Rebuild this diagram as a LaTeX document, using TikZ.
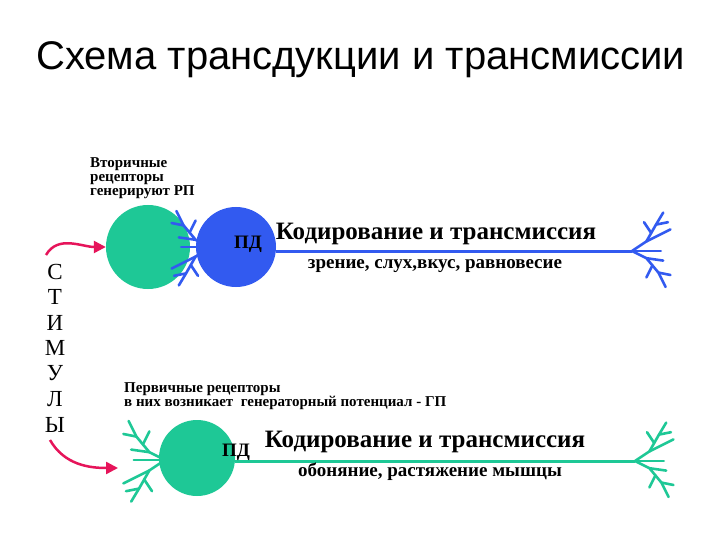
\documentclass[tikz,border=0pt]{standalone}
\usepackage{fontspec}
\setmainfont{Liberation Serif}
\newfontfamily\sansf{Liberation Sans}
\usetikzlibrary{arrows.meta}
\definecolor{cgreen}{RGB}{30,200,150}
\definecolor{cblue}{RGB}{50,90,240}
\definecolor{cred}{RGB}{230,20,90}
\tikzset{
 cell/.style={circle,minimum size=80pt,inner sep=0pt},
 axon/.style={line width=3pt},
 dend/.style={line width=2.6pt,line cap=round,line join=round},
 stim/.style={cred,line width=2.5pt,-{Triangle[length=12pt,width=12pt]}},
 lbl/.style={font=\bfseries,inner sep=0pt},
 pics/tree/.style={code={
  \draw[dend] (0,0) -- (12,-8) -- (20,-22) -- (26,-32);
  \draw[dend] (12,-8) -- (24,-14) -- (32,-18);
  \draw[dend] (20,-22) -- (30,-24);
  \draw[dend] (16,-15) -- (10,-24);
  \draw[dend] (0,0) -- (12,6) -- (22,18) -- (28,30);
  \draw[dend] (12,6) -- (26,8);
  \draw[dend] (22,18) -- (32,20);
  \draw[dend] (17,12) -- (12,22);
  \draw[dend] (0,0) -- (24,0);
 }}
}
\begin{document}
\begin{tikzpicture}[x=1pt,y=-1pt]
\useasboundingbox[fill=white] (0,0) rectangle (720,540);
\node[font=\sansf\fontsize{40}{46}\selectfont,anchor=west,inner sep=0pt] (title) at (36,60) {Схема трансдукции и трансмиссии};
% upper
\node[lbl,align=left,anchor=north west,font=\bfseries\fontsize{15}{14}\selectfont] (t1) at (90,157) {Вторичные\\ рецепторы\\ генерируют РП};
\node[cell,fill=cgreen,minimum width=84pt] (g1) at (148,247) {};
\node[cell,fill=cblue] (b1) at (236,247) {};
\pic[cblue,rotate=180,scale=1.2] at (210,247) {tree};
\coordinate (e1) at (632,251);
\draw[axon,cblue] (b1.east|-e1) -- (e1);
\pic[cblue,scale=1.2] at (e1) {tree};
\node[lbl,font=\bfseries\fontsize{19}{20}\selectfont] (pd1) at (248,244) {ПД};
\node[lbl,font=\bfseries\fontsize{25}{28}\selectfont] (k1) at (436,234) {Кодирование и трансмиссия};
\node[lbl,font=\bfseries\fontsize{19}{20}\selectfont] (s1) at (435,266) {зрение, слух,вкус, равновесие};
% stimuli
\foreach \l [count=\i] in {С,Т,И,М,У,Л,Ы}
  \node[font=\fontsize{23}{24}\selectfont,inner sep=0pt] (st\i) at (55,246+25.5*\i) {\l};
\coordinate (a1) at (46,255);
\coordinate (a2) at (50,440);
\draw[stim] (a1) to[out=60,in=180] (g1.west);
% lower
\node[lbl,align=left,anchor=north west,font=\bfseries\fontsize{15}{14}\selectfont] (t2) at (124,382) {Первичные рецепторы\\ в них возникает\ \ генераторный потенциал - ГП};
\node[cell,fill=cgreen,minimum size=76pt] (g2) at (197,458) {};
\pic[cgreen,rotate=180,scale=1.3] at (165,460) {tree};
\draw[stim] (a2) to[out=-60,in=180] (118,468);
\coordinate (e2) at (635,461);
\draw[axon,cgreen] (g2.east|-e2) -- (e2);
\pic[cgreen,scale=1.2] at (e2) {tree};
\node[lbl,font=\bfseries\fontsize{19}{20}\selectfont] (pd2) at (236,452) {ПД};
\node[lbl,font=\bfseries\fontsize{25}{28}\selectfont] (k2) at (425,442) {Кодирование и трансмиссия};
\node[lbl,font=\bfseries\fontsize{19}{20}\selectfont] (s2) at (430,472) {обоняние, растяжение мышцы};
\end{tikzpicture}
\end{document}
